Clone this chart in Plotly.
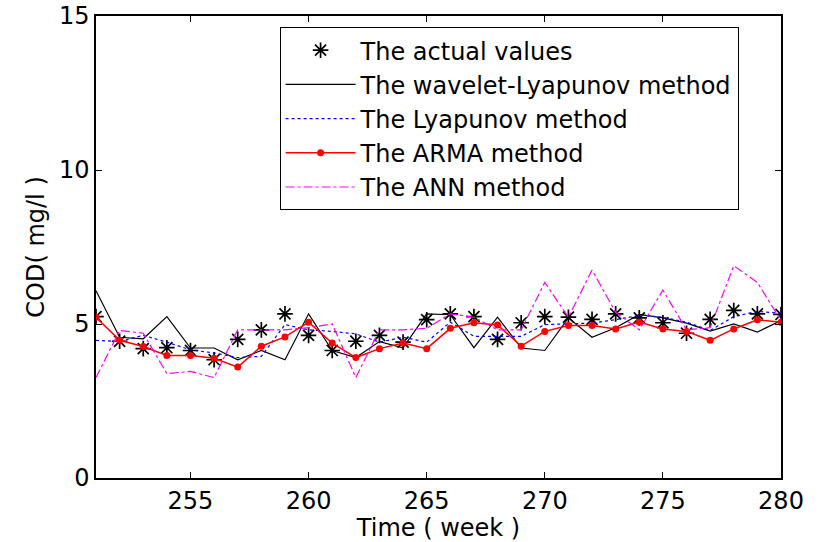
import plotly.graph_objects as go

weeks = list(range(251, 281))

actual = [5.24, 4.44, 4.20, 4.23, 4.14, 3.84, 4.50, 4.81, 5.33, 4.63,
          4.14, 4.44, 4.63, 4.41, 5.14, 5.33, 5.24, 4.50, 5.04, 5.24,
          5.22, 5.15, 5.33, 5.20, 5.04, 4.70, 5.15, 5.44, 5.33, 5.31]

wavelet = [6.08, 4.57, 4.52, 5.24, 4.22, 4.22, 3.84, 4.14, 3.84, 5.33,
           4.14, 3.91, 4.43, 4.23, 5.33, 5.30, 4.23, 5.22, 4.22, 4.14,
           5.20, 4.57, 4.88, 5.31, 5.20, 5.03, 4.77, 5.00, 4.74, 5.11]

lyapunov = [4.47, 4.43, 4.63, 4.41, 4.16, 4.06, 3.91, 3.95, 4.98, 4.81,
            4.76, 4.68, 4.41, 4.57, 4.41, 5.06, 4.60, 4.60, 4.60, 4.98,
            5.00, 5.03, 5.14, 5.28, 5.22, 5.06, 4.79, 5.24, 5.41, 5.35]

arma = [5.22, 4.47, 4.27, 3.98, 3.98, 3.89, 3.60, 4.28, 4.58, 5.06,
        4.38, 3.91, 4.20, 4.38, 4.20, 4.86, 5.04, 4.97, 4.28, 4.76,
        4.95, 4.95, 4.84, 5.06, 4.84, 4.76, 4.47, 4.84, 5.14, 5.06]

ann = [3.26, 4.79, 4.70, 3.39, 3.46, 3.26, 4.81, 4.81, 4.81, 4.88,
       5.00, 3.26, 4.81, 4.81, 4.86, 5.33, 5.22, 4.81, 4.81, 6.35,
       5.22, 6.75, 5.38, 4.81, 6.10, 4.81, 4.88, 6.89, 6.35, 5.11]

x_ticks = [255, 260, 265, 270, 275, 280]
y_ticks = [0, 5, 10, 15]

FONT = "DejaVu Sans, Liberation Sans, Arial, sans-serif"
FS = 24

fig = go.Figure()
fig.add_trace(go.Scatter(
    x=weeks, y=actual, mode="markers", name="The actual values",
    marker=dict(symbol="asterisk-open", size=13, color="black",
                line=dict(color="black", width=1.7))))
fig.add_trace(go.Scatter(
    x=weeks, y=wavelet, mode="lines", name="The wavelet-Lyapunov method",
    line=dict(color="black", width=1.2)))
fig.add_trace(go.Scatter(
    x=weeks, y=lyapunov, mode="lines", name="The Lyapunov method",
    line=dict(color="blue", width=1.2, dash="dot")))
fig.add_trace(go.Scatter(
    x=weeks, y=arma, mode="lines+markers", name="The ARMA method",
    line=dict(color="red", width=1.5),
    marker=dict(symbol="circle", size=7, color="red")))
fig.add_trace(go.Scatter(
    x=weeks, y=ann, mode="lines", name="The ANN method",
    line=dict(color="magenta", width=1.2, dash="dashdot")))

fig.update_layout(
    width=819, height=542,
    margin=dict(l=96, r=38, t=16, b=64),
    paper_bgcolor="white", plot_bgcolor="white",
    font=dict(family=FONT, size=FS, color="black"),
    showlegend=True,
    legend=dict(
        x=0.268, y=0.976, xanchor="left", yanchor="top",
        bgcolor="white", bordercolor="black", borderwidth=1,
        font=dict(family=FONT, size=FS, color="black"),
        itemwidth=70, tracegroupgap=0,
    ),
)
fig.update_xaxes(
    range=[251, 280], tickvals=x_ticks, ticktext=[str(v) for v in x_ticks],
    ticks="inside", ticklen=6, tickcolor="black", mirror="ticks",
    showline=True, linecolor="black", linewidth=1.5, showgrid=False,
    zeroline=False, tickfont=dict(family=FONT, size=FS), automargin=False,
    title=dict(text="Time ( week )", font=dict(family=FONT, size=FS), standoff=4),
)
fig.update_yaxes(
    range=[0, 15], tickvals=y_ticks, ticktext=[str(v) for v in y_ticks],
    ticks="inside", ticklen=6, tickcolor="black", mirror="ticks",
    showline=True, linecolor="black", linewidth=1.5, showgrid=False,
    zeroline=False, tickfont=dict(family=FONT, size=FS), automargin=False,
    title=dict(text="COD( mg/l )", font=dict(family=FONT, size=FS), standoff=8),
)

fig.write_html("out.html")
